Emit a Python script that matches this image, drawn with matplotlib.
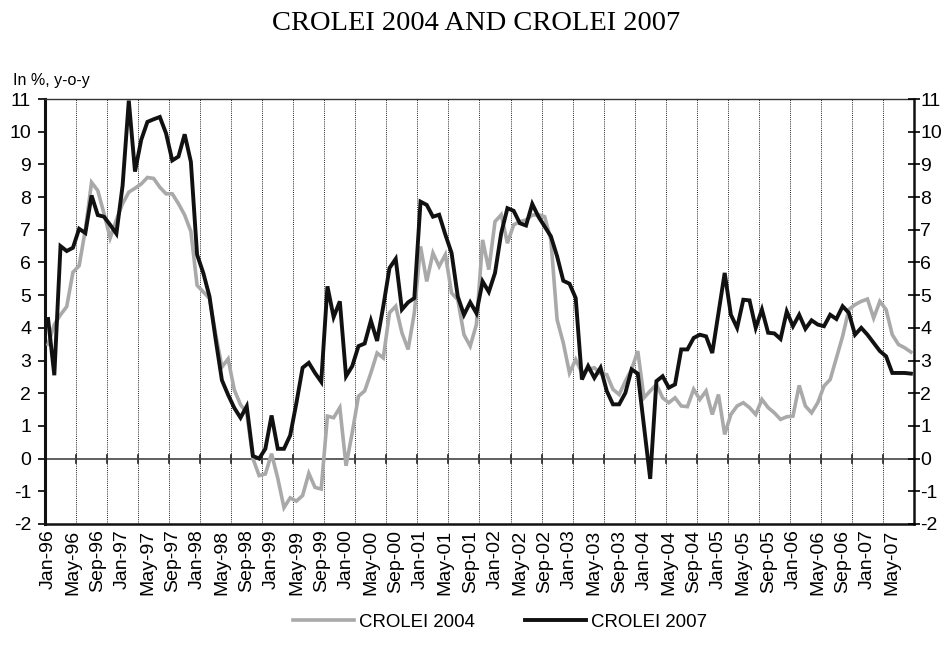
import matplotlib
matplotlib.use("Agg")
import matplotlib.pyplot as plt
import numpy as np

months = ["Jan", "Feb", "Mar", "Apr", "May", "Jun", "Jul", "Aug", "Sep", "Oct", "Nov", "Dec"]
periods = [f"{months[m]}-{y % 100:02d}" for y in range(1996, 2008) for m in range(12)][:140]

crolei_2004 = [
    3.5, 4.1, 4.4, 4.65, 5.7, 5.9, 7.0, 8.45, 8.2, 7.5, 6.75, 7.3,
    7.8, 8.15, 8.27, 8.4, 8.6, 8.57, 8.3, 8.1, 8.1, 7.8, 7.45, 6.95,
    5.3, 5.1, 4.9, 3.8, 2.8, 3.05, 2.1, 1.65, 1.4, 0.0, -0.52, -0.47,
    0.15, -0.6, -1.5, -1.2, -1.3, -1.13, -0.45, -0.88, -0.93, 1.3, 1.25, 1.56,
    -0.22, 0.8, 1.91, 2.07, 2.62, 3.23, 3.08, 4.46, 4.66, 3.85, 3.34, 4.46,
    6.49, 5.42, 6.29, 5.88, 6.24, 5.07, 4.86, 3.79, 3.44, 4.1, 6.69, 5.78,
    7.25, 7.46, 6.59, 7.15, 7.25, 7.3, 7.45, 7.46, 7.4, 6.69, 4.25, 3.54,
    2.62, 3.03, 2.62, 2.73, 2.78, 2.6, 2.57, 2.12, 1.96, 2.37, 2.73, 3.29,
    1.86, 2.07, 2.27, 1.86, 1.71, 1.86, 1.61, 1.59, 2.12, 1.81, 2.07, 1.35,
    1.96, 0.74, 1.35, 1.61, 1.71, 1.56, 1.35, 1.81, 1.56, 1.4, 1.2, 1.28,
    1.3, 2.24, 1.61, 1.4, 1.71, 2.22, 2.42, 3.08, 3.74, 4.56, 4.71, 4.81,
    4.88, 4.3, 4.81, 4.56, 3.79, 3.49, 3.39, 3.26,
]

crolei_2007 = [
    4.27, 2.55, 6.5, 6.35, 6.45, 7.03, 6.9, 8.05, 7.45, 7.4, 7.15, 6.88,
    8.35, 10.95, 8.78, 9.75, 10.3, 10.38, 10.45, 9.95, 9.12, 9.24, 9.92, 9.08,
    6.24, 5.68, 4.96, 3.64, 2.4, 1.95, 1.55, 1.25, 1.6, 0.08, 0.0, 0.3,
    1.32, 0.3, 0.3, 0.71, 1.7, 2.78, 2.93, 2.62, 2.35, 5.27, 4.33, 4.81,
    2.52, 2.83, 3.44, 3.52, 4.22, 3.6, 4.66, 5.83, 6.11, 4.56, 4.78, 4.91,
    7.86, 7.76, 7.4, 7.46, 6.85, 6.29, 4.96, 4.4, 4.78, 4.45, 5.42, 5.1,
    5.68, 6.9, 7.66, 7.58, 7.2, 7.13, 7.79, 7.4, 7.1, 6.8, 6.19, 5.44,
    5.35, 4.91, 2.42, 2.83, 2.47, 2.78, 2.07, 1.66, 1.66, 2.01, 2.73, 2.6,
    1.0, -0.62, 2.37, 2.52, 2.17, 2.27, 3.34, 3.34, 3.69, 3.79, 3.74, 3.23,
    4.46, 5.68, 4.4, 4.0, 4.86, 4.84, 4.0, 4.56, 3.85, 3.83, 3.66, 4.5,
    4.05, 4.4, 3.97, 4.23, 4.1, 4.05, 4.4, 4.27, 4.66, 4.46, 3.79, 4.0,
    3.79, 3.54, 3.29, 3.13, 2.62, 2.62, 2.62, 2.6,
]

y_ticks = list(range(-2, 12))
label_step = 4
grid_step = 5

sans = ["Liberation Sans", "DejaVu Sans"]
plt.rcParams["font.family"] = sans

fig = plt.figure(figsize=(9.52, 6.56), dpi=100)
ax = fig.add_axes([45 / 952, (656 - 524) / 656, 869 / 952, 425 / 656])

n = len(periods)
x = np.arange(n) + 0.5

ax.set_xlim(0, n)
ax.set_ylim(-2, 11)

# vertical dotted grid at category boundaries
for b in range(grid_step, n, grid_step):
    ax.axvline(b, color="#222222", lw=0.7, ls=(0, (1, 1.2)), zorder=1)
    ax.plot([b, b], [-0.12, 0.12], color="#222222", lw=1.2, zorder=2)

ax.axhline(0, color="#444444", lw=1.2, zorder=2)

ax.plot(x, crolei_2004, color="#a9a9a9", lw=2.6, zorder=3, label="CROLEI 2004",
        solid_joinstyle="miter")
ax.plot(x, crolei_2007, color="#111111", lw=2.8, zorder=4, label="CROLEI 2007",
        solid_joinstyle="miter")

ax.set_xticks(x[::label_step])
ax.set_xticklabels(periods[::label_step], rotation=90, fontsize=14)
ax.tick_params(axis="x", length=0, pad=4)

ax.set_yticks(y_ticks)
ax.set_yticklabels([str(v) for v in y_ticks], fontsize=14)
ax.tick_params(axis="y", direction="out", length=5, width=1.2, pad=5)

ax.spines["left"].set_linewidth(2.2)
ax.spines["left"].set_color("#111111")
ax.spines["bottom"].set_linewidth(1.8)
ax.spines["bottom"].set_color("#111111")
ax.spines["top"].set_linewidth(1.0)
ax.spines["top"].set_color("#333333")
ax.spines["right"].set_linewidth(1.8)
ax.spines["right"].set_color("#111111")

ax2 = ax.twinx()
ax2.set_ylim(-2, 11)
ax2.set_yticks(y_ticks)
ax2.set_yticklabels([str(v) for v in y_ticks], fontsize=14)
ax2.tick_params(axis="y", direction="inout", length=9, width=1.2, pad=0)
for s in ax2.spines.values():
    s.set_visible(False)

fig.text(13 / 952, 1 - 80 / 656, "In %, y-o-y", fontsize=11.5, ha="left", va="center")
fig.text(0.5, 1 - 23 / 656, "CROLEI 2004 AND CROLEI 2007", fontsize=20.5,
         ha="center", va="center", family=["Liberation Serif", "DejaVu Serif"])

leg = fig.legend(loc="center", bbox_to_anchor=(500 / 952, 1 - 622 / 656), ncol=2, frameon=False,
                 fontsize=13.4, handlelength=3.3, handletextpad=0.25, columnspacing=2.7)

fig.savefig("out.png", dpi=100)
